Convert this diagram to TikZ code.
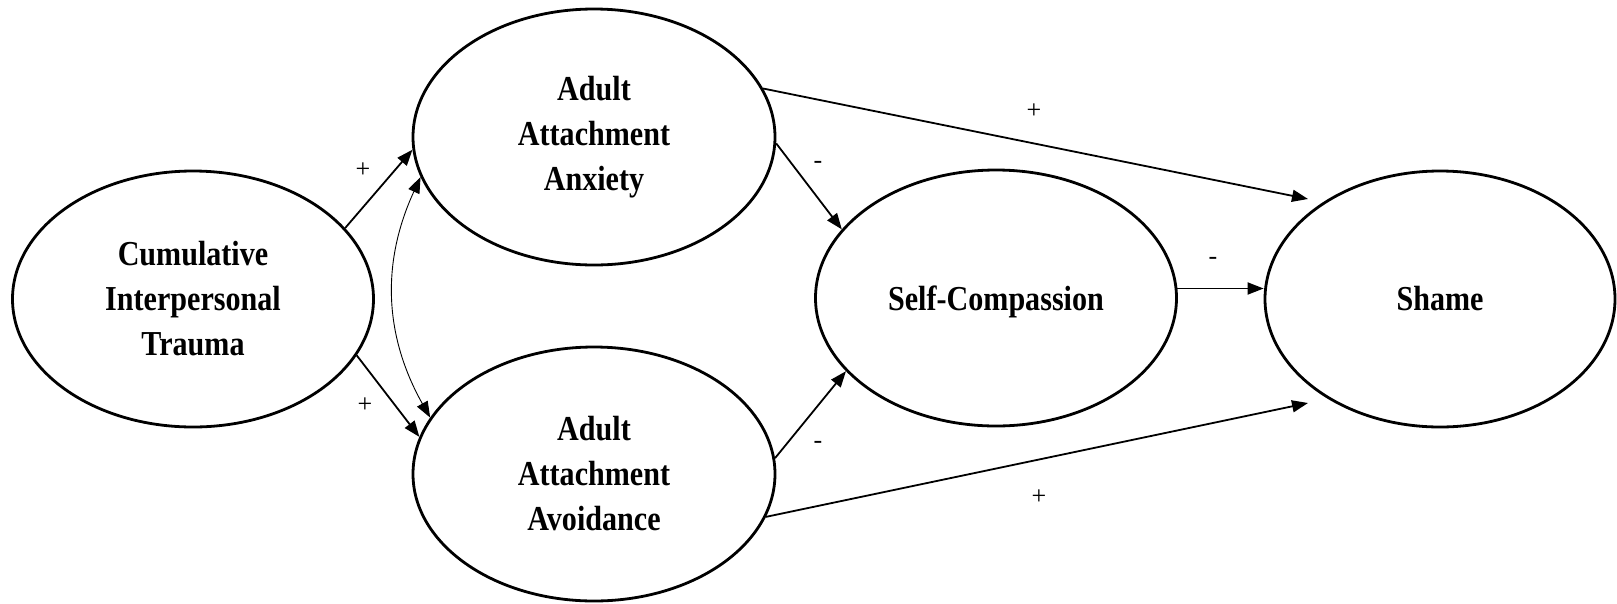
\documentclass[tikz,border=0pt]{standalone}
\usepackage{fontspec}
\setmainfont{Liberation Serif}
\newfontfamily\boxfont{Liberation Serif}[FakeStretch=0.86]
\usetikzlibrary{arrows.meta,shapes.geometric}
\begin{document}
\begin{tikzpicture}[x=1pt,y=-1pt,
  latent/.style={ellipse,draw,line width=2.8pt,inner sep=0pt,align=center,
    font=\boxfont\bfseries\fontsize{35}{45}\selectfont},
  arr/.style={line width=1.8pt,-{Triangle[length=16pt,width=12pt]}},
  thinarr/.style={line width=0.9pt,{Triangle[length=16pt,width=12pt]}-{Triangle[length=16pt,width=12pt]}},
  sign/.style={font=\fontsize{26}{26}\selectfont,inner sep=0pt}]
\useasboundingbox (0,0) rectangle (1617,603);
\node[latent,minimum width=361pt,minimum height=256pt] (cum) at (193,299) {Cumulative\\Interpersonal\\Trauma};
\node[latent,minimum width=362pt,minimum height=256pt] (anx) at (594,137) {Adult\\Attachment\\Anxiety};
\node[latent,minimum width=362pt,minimum height=254pt] (avo) at (594,474) {Adult\\Attachment\\Avoidance};
\node[latent,minimum width=361pt,minimum height=256pt,text depth=0pt] (sc) at (996,298) {Self-Compassion};
\node[latent,minimum width=350pt,minimum height=256pt] (sh) at (1440,299) {Shame};
\coordinate (t1) at (1308,199);
\coordinate (t2) at (1308,403);
\draw[arr] (cum.25) -- (anx.184);
\draw[arr] (cum.-19) -- (avo.168);
\draw[thinarr] (anx.193) to[bend right=27] (avo.161);
\draw[arr] (anx.-2) -- (sc.156);
\draw[arr] (avo.5) -- (sc.206);
\draw[arr] (sc.3) -- (sc.3 -| sh.west);
\draw[arr] (anx.16.5) -- (t1);
\draw[arr] (avo.-14) -- (t2);
\node[sign] (p1) at (363,170) {+};
\node[sign] (p2) at (365,405) {+};
\node[sign] (p3) at (1034,111) {+};
\node[sign] (p4) at (1039,497) {+};
\node[sign] (m1) at (818,165) {-};
\node[sign] (m2) at (818,445) {-};
\node[sign] (m3) at (1213,261) {-};
\end{tikzpicture}
\end{document}
